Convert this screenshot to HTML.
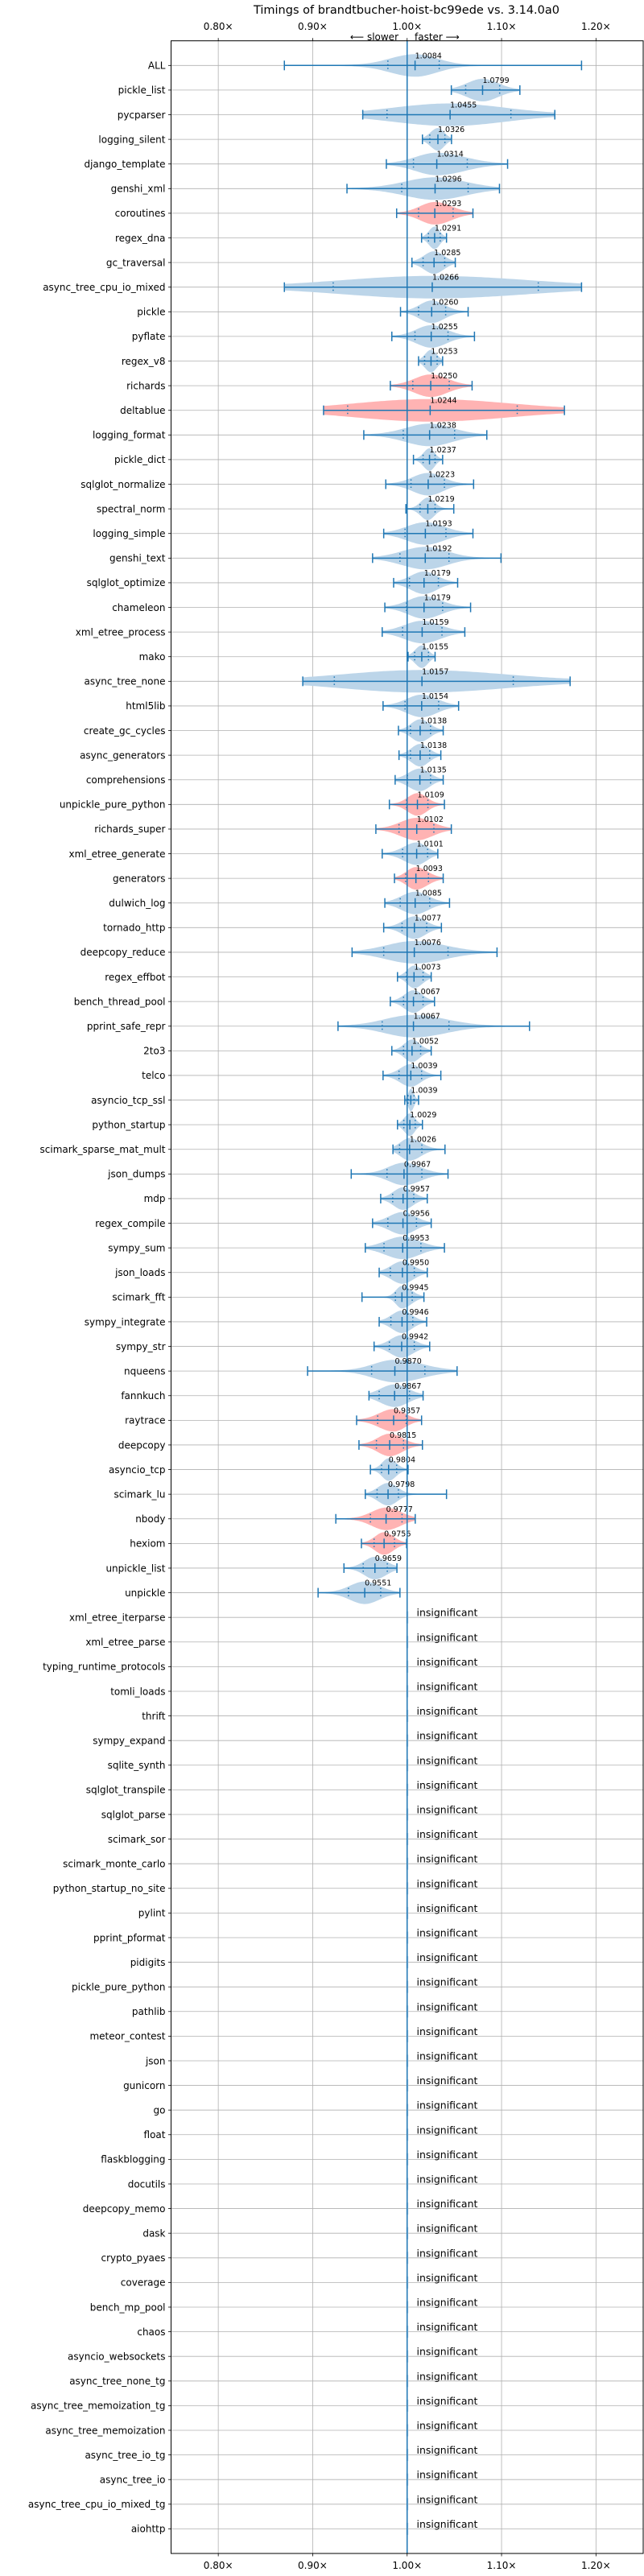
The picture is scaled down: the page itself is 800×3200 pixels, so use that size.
<!DOCTYPE html>
<html><head><meta charset="utf-8"><style>
html,body{margin:0;padding:0;background:#fff;}
svg{display:block;font-family:"DejaVu Sans","Liberation Sans",sans-serif;}
</style></head><body>
<svg id="chart" width="800" height="3200" viewBox="0 0 800 3200" xmlns="http://www.w3.org/2000/svg">
<text x="505" y="17" font-size="14.5" text-anchor="middle" fill="#000">Timings of brandtbucher-hoist-bc99ede vs. 3.14.0a0</text>
<text x="495" y="50" font-size="12" text-anchor="end" fill="#000">⟵ slower</text>
<text x="515" y="50" font-size="12" text-anchor="start" fill="#000">faster ⟶</text>
<g id="grid"></g><g id="marks"></g><g id="axes"></g>
</svg>
<script>
const benchNames = ["ALL","pickle_list","pycparser","logging_silent","django_template","genshi_xml","coroutines","regex_dna","gc_traversal","async_tree_cpu_io_mixed","pickle","pyflate","regex_v8","richards","deltablue","logging_format","pickle_dict","sqlglot_normalize","spectral_norm","logging_simple","genshi_text","sqlglot_optimize","chameleon","xml_etree_process","mako","async_tree_none","html5lib","create_gc_cycles","async_generators","comprehensions","unpickle_pure_python","richards_super","xml_etree_generate","generators","dulwich_log","tornado_http","deepcopy_reduce","regex_effbot","bench_thread_pool","pprint_safe_repr","2to3","telco","asyncio_tcp_ssl","python_startup","scimark_sparse_mat_mult","json_dumps","mdp","regex_compile","sympy_sum","json_loads","scimark_fft","sympy_integrate","sympy_str","nqueens","fannkuch","raytrace","deepcopy","asyncio_tcp","scimark_lu","nbody","hexiom","unpickle_list","unpickle","xml_etree_iterparse","xml_etree_parse","typing_runtime_protocols","tomli_loads","thrift","sympy_expand","sqlite_synth","sqlglot_transpile","sqlglot_parse","scimark_sor","scimark_monte_carlo","python_startup_no_site","pylint","pprint_pformat","pidigits","pickle_pure_python","pathlib","meteor_contest","json","gunicorn","go","float","flaskblogging","docutils","deepcopy_memo","dask","crypto_pyaes","coverage","bench_mp_pool","chaos","asyncio_websockets","async_tree_none_tg","async_tree_memoization_tg","async_tree_memoization","async_tree_io_tg","async_tree_io","async_tree_cpu_io_mixed_tg","aiohttp"];
const medians = [1.0084,1.0799,1.0455,1.0326,1.0314,1.0296,1.0293,1.0291,1.0285,1.0266,1.0260,1.0255,1.0253,1.0250,1.0244,1.0238,1.0237,1.0223,1.0219,1.0193,1.0192,1.0179,1.0179,1.0159,1.0155,1.0157,1.0154,1.0138,1.0138,1.0135,1.0109,1.0102,1.0101,1.0093,1.0085,1.0077,1.0076,1.0073,1.0067,1.0067,1.0052,1.0039,1.0039,1.0029,1.0026,0.9967,0.9957,0.9956,0.9953,0.9950,0.9945,0.9946,0.9942,0.9870,0.9867,0.9857,0.9815,0.9804,0.9798,0.9777,0.9756,0.9659,0.9551];
const mins = [0.870,1.0468,0.953,1.0162,0.978,0.9363,0.9889,1.0153,1.0051,0.870,0.993,0.9838,1.0121,0.9822,0.9115,0.9541,1.0067,0.9774,0.9987,0.9752,0.9634,0.9857,0.9764,0.9736,1.001,0.8895,0.9745,0.9908,0.9914,0.9873,0.9812,0.9669,0.9736,0.9866,0.9764,0.9752,0.9417,0.9898,0.9822,0.9268,0.9838,0.9745,0.9975,0.9898,0.985,0.9408,0.972,0.9634,0.9557,0.9704,0.9522,0.9704,0.965,0.8946,0.9596,0.9465,0.949,0.9611,0.9557,0.9245,0.9516,0.9331,0.9057];
const q1s = [0.9796,1.062,0.9787,1.024,1.0067,0.9943,1.0121,1.0226,1.0169,0.9217,1.0121,1.0083,1.0185,1.006,0.937,0.9959,1.0169,1.0041,1.0137,0.9978,0.9924,1.0025,0.9994,0.9952,1.008,0.9229,0.9978,1.0035,1.0035,1.0003,0.9994,0.9914,0.9952,0.9984,0.9927,0.9946,0.9752,0.9994,0.9962,0.9736,0.9962,0.9914,1.001,0.9965,0.992,0.9787,0.9847,0.9796,0.9755,0.9822,0.9876,0.9828,0.9812,0.9624,0.9704,0.9688,0.9675,0.9729,0.9682,0.9611,0.965,0.9535,0.9379];
const q3s = [1.034,1.098,1.1099,1.040,1.0637,1.0646,1.0487,1.035,1.0398,1.1389,1.0408,1.0433,1.0318,1.0446,1.1166,1.0503,1.0296,1.0395,1.0296,1.0411,1.0443,1.0331,1.0376,1.0369,1.0226,1.1124,1.0334,1.0248,1.0239,1.0248,1.022,1.0283,1.0217,1.0226,1.0239,1.0207,1.0433,1.0169,1.0169,1.0443,1.0143,1.0153,1.0073,1.0086,1.0156,1.0156,1.007,1.0099,1.0146,1.0076,1.0054,1.006,1.0076,1.0188,1.0025,0.999,0.9962,0.9889,0.9908,0.9946,0.9866,0.979,0.972];
const maxs = [1.1847,1.1194,1.1564,1.047,1.1064,1.0978,1.0697,1.0417,1.051,1.1847,1.0646,1.0713,1.0376,1.0688,1.1666,1.0844,1.0376,1.0704,1.0494,1.0697,1.0994,1.0535,1.0672,1.0611,1.0296,1.1726,1.0545,1.0382,1.0357,1.0382,1.0395,1.0468,1.0325,1.0382,1.0449,1.0363,1.0952,1.0255,1.029,1.1296,1.0255,1.0357,1.0121,1.0162,1.0401,1.0433,1.0213,1.0255,1.0395,1.0213,1.0178,1.0207,1.0239,1.0529,1.0169,1.0153,1.0162,1.001,1.0417,1.0086,0.9994,0.9892,0.9924];
const redBenches = ["coroutines","richards","deltablue","unpickle_pure_python","richards_super","generators","raytrace","deepcopy","nbody","hexiom"];
const xTicks = [0.8,0.9,1.0,1.1,1.2];

const NS="http://www.w3.org/2000/svg";
const L=212.5,R=799,T=50.7,B=3172;
const X0=0.75,X1=1.25;
const xs=v=>L+(v-X0)/(X1-X0)*(R-L);
const rowH=(B-T)/102;
const ys=i=>T+(i+1)*rowH;
const BLUE="#1f77b4";
function mk(tag,attrs,parent){const e=document.createElementNS(NS,tag);for(const k in attrs)e.setAttribute(k,attrs[k]);parent.appendChild(e);return e;}
const grid=document.getElementById('grid'),marks=document.getElementById('marks'),axes=document.getElementById('axes');

xTicks.forEach(t=>{
  const g=mk('line',{x1:xs(t),x2:xs(t),y1:T,y2:B,stroke:'#b0b0b0','stroke-width':0.8},grid);
  
  
});
benchNames.forEach((n,i)=>{
  const y=ys(i);
  const g=mk('line',{x1:L,x2:R,y1:y,y2:y,stroke:'#b0b0b0','stroke-width':0.8},grid);
  
  
  const tk=mk('line',{x1:L-3.5,x2:L,y1:y,y2:y,stroke:'#000','stroke-width':0.8},axes);
  
  
  const t=mk('text',{x:L-7,y:y+4.3,'font-size':12,'text-anchor':'end',fill:'#000'},axes);
  t.textContent=n;
  
  
});

function violinPath(i){
  const mn=mins[i],mx=maxs[i],md=medians[i],a=q1s[i],b=q3s[i];
  const y=ys(i),peak=14;
  const N=80,top=[],bot=[];
  for(let k=0;k<=N;k++){
    const v=mn+(mx-mn)*k/N;
    const s=v<md?Math.max((md-a)/1.1,0.002):Math.max((b-md)/1.1,0.002);
    const g=Math.exp(-0.5*Math.pow((v-md)/s,2));
    const h=peak*(0.96*g+0.04);
    top.push([xs(v),y-h]);bot.push([xs(v),y+h]);
  }
  let d='M'+top.map(p=>p[0].toFixed(1)+','+p[1].toFixed(1)).join('L');
  d+='L'+bot.reverse().map(p=>p[0].toFixed(1)+','+p[1].toFixed(1)).join('L')+'Z';
  return d;
}

medians.forEach((md,i)=>{
  const y=ys(i);
  const red=redBenches.includes(benchNames[i]);
  const v=mk('path',{d:violinPath(i),fill:red?'#ffb3b3':'#bcd5e9'},marks);
  
  
  const w=mk('line',{x1:xs(mins[i]),x2:xs(maxs[i]),y1:y,y2:y,stroke:BLUE,'stroke-width':1.5},marks);
  
  
  [mins[i],maxs[i],md].forEach(val=>{
    const c=mk('line',{x1:xs(val),x2:xs(val),y1:y-6,y2:y+6,stroke:BLUE,'stroke-width':1.5},marks);
    
    
  });
  [q1s[i],q3s[i]].forEach(val=>{
    const c=mk('line',{x1:xs(val),x2:xs(val),y1:y-6,y2:y+6,stroke:BLUE,'stroke-width':1.5,'stroke-dasharray':'1.5,3'},marks);
    
    
  });
  const t=mk('text',{x:xs(md),y:y-9,'font-size':9.5,fill:'#000'},marks);
  t.textContent=md.toFixed(4);
  
  
});
for(let i=medians.length;i<benchNames.length;i++){
  const y=ys(i);
  const r=mk('rect',{x:xs(1)-1,y:y-7.5,width:2.5,height:15,fill:'#bcd5e9'},marks);
  
  
  const t=mk('text',{x:xs(1.01),y:y-1.5,'font-size':12.5,fill:'#000'},marks);
  t.textContent='insignificant';
  
  
}
const bl=mk('line',{x1:xs(1),x2:xs(1),y1:T,y2:B,stroke:BLUE,'stroke-width':1.5},marks);



const fr=mk('rect',{x:L,y:T,width:R-L,height:B-T,fill:'none',stroke:'#000','stroke-width':1},axes);


xTicks.forEach(t=>{
  const x=xs(t),lab=t.toFixed(2)+'×';
  const a=mk('line',{x1:x,x2:x,y1:T-3.5,y2:T,stroke:'#000','stroke-width':0.8},axes);
  
  
  const b=mk('line',{x1:x,x2:x,y1:B,y2:B+3.5,stroke:'#000','stroke-width':0.8},axes);
  
  
  const t1=mk('text',{x:x,y:37,'font-size':12,'text-anchor':'middle',fill:'#000'},axes);
  t1.textContent=lab;
  
  
  const t2=mk('text',{x:x,y:3191,'font-size':12,'text-anchor':'middle',fill:'#000'},axes);
  t2.textContent=lab;
  
  
});
</script>
</body></html>
